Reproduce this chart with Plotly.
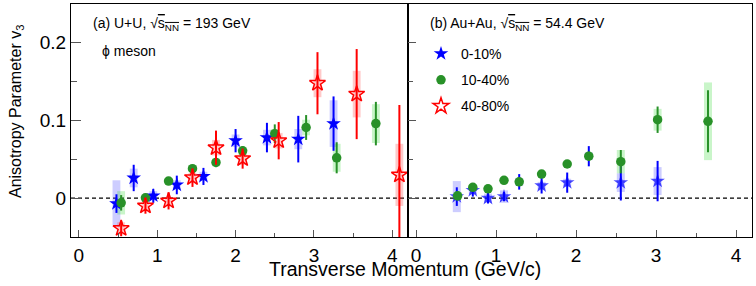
import plotly.graph_objects as go

# ---------------- data ----------------
# U+U 193 GeV
uu_x_010 = [0.48, 0.70, 0.95, 1.25, 1.59, 2.00, 2.40, 2.80, 3.25]
uu_v3_010 = [-0.007, 0.026, 0.003, 0.017, 0.028, 0.074, 0.078, 0.076, 0.096]
uu_stat_010 = [0.012, 0.017, 0.009, 0.012, 0.011, 0.015, 0.019, 0.030, 0.035]
uu_sys_010 = [0.030, 0.012, 0.006, 0.006, 0.006, 0.008, 0.010, 0.013, 0.030]

uu_x_1040 = [0.54, 0.85, 1.145, 1.45, 1.75, 2.09, 2.50, 2.90, 3.29, 3.79]
uu_v3_1040 = [-0.006, 0.0005, 0.022, 0.038, 0.046, 0.061, 0.083, 0.091, 0.052, 0.096]
uu_stat_1040 = [0.010, 0.004, 0.004, 0.005, 0.006, 0.006, 0.012, 0.016, 0.020, 0.028]
uu_sys_1040 = [0.015, 0.004, 0.004, 0.004, 0.005, 0.005, 0.006, 0.010, 0.018, 0.025]

uu_x_4080 = [0.54, 0.85, 1.145, 1.45, 1.75, 2.09, 2.55, 3.045, 3.545, 4.09]
uu_v3_4080 = [-0.039, -0.010, -0.0035, 0.0265, 0.065, 0.051, 0.074, 0.148, 0.134, 0.030]
uu_stat_4080 = [0.010, 0.010, 0.011, 0.012, 0.022, 0.013, 0.024, 0.040, 0.058, 0.090]
uu_sys_4080 = [0.008, 0.006, 0.005, 0.006, 0.010, 0.008, 0.010, 0.018, 0.030, 0.040]

# Au+Au 54.4 GeV
au_x_010 = [0.51, 0.71, 0.90, 1.10, 1.29, 1.57, 1.89, 2.16, 2.56, 3.02]
au_v3_010 = [0.002, 0.010, 0.000, 0.002, 0.021, 0.016, 0.020, 0.054, 0.020, 0.022]
au_stat_010 = [0.012, 0.008, 0.007, 0.006, 0.010, 0.010, 0.013, 0.013, 0.023, 0.026]
au_sys_010 = [0.020, 0.005, 0.006, 0.008, 0.005, 0.005, 0.005, 0.005, 0.012, 0.018]

au_x_1040 = [0.52, 0.71, 0.90, 1.10, 1.29, 1.57, 1.89, 2.16, 2.56, 3.02, 3.65]
au_v3_1040 = [0.003, 0.014, 0.012, 0.023, 0.021, 0.031, 0.044, 0.054, 0.047, 0.101, 0.099]
au_stat_1040 = [0.006, 0.004, 0.004, 0.004, 0.005, 0.004, 0.005, 0.006, 0.015, 0.017, 0.040]
au_sys_1040 = [0.005, 0.004, 0.004, 0.003, 0.004, 0.003, 0.004, 0.004, 0.015, 0.014, 0.050]

x_ticks = [0, 1, 2, 3, 4]
x_ticktext = ["0", "1", "2", "3", "4"]
y_ticks = [0, 0.1, 0.2]
y_ticktext = ["0", "0.1", "0.2"]

series_names = ["0-10%", "10-40%", "40-80%"]

# ---------------- styles ----------------
BLUE = "rgb(0,0,255)"
GREEN = "rgb(40,145,40)"
RED = "rgb(255,0,0)"
BLUE_BOX = "rgba(90,90,255,0.30)"
GREEN_BOX = "rgba(60,220,60,0.28)"
RED_BOX = "rgba(255,60,60,0.28)"
FONT = "Liberation Sans, Arial, sans-serif"
# blue markers fully hidden behind green circles in panel (b)
AU_BLUE_SIZES = [11, 11, 11, 11, 0, 11, 11, 0, 11, 11]

fig = go.Figure()


def add_boxes(x, v, s, color, xa, ya):
    fig.add_trace(go.Bar(
        x=x, y=[2 * e for e in s], base=[a - e for a, e in zip(v, s)],
        width=0.1, marker=dict(color=color, line=dict(width=0)),
        showlegend=False, hoverinfo="skip", xaxis=xa, yaxis=ya))


def add_points(x, v, e, color, symbol, size, name, xa, ya, show, lw=0):
    fig.add_trace(go.Scatter(
        x=x, y=v, mode="markers", name=name, legendgroup=name,
        showlegend=show,
        marker=dict(color=color, symbol=symbol, size=size,
                    line=dict(color=color, width=lw)),
        error_y=dict(type="data", array=e, color=color, thickness=2, width=0),
        xaxis=xa, yaxis=ya))


# systematic boxes
add_boxes(uu_x_010, uu_v3_010, uu_sys_010, BLUE_BOX, "x", "y")
add_boxes(uu_x_1040, uu_v3_1040, uu_sys_1040, GREEN_BOX, "x", "y")
add_boxes(uu_x_4080, uu_v3_4080, uu_sys_4080, RED_BOX, "x", "y")
add_boxes(au_x_010, au_v3_010, au_sys_010, BLUE_BOX, "x2", "y2")
add_boxes(au_x_1040, au_v3_1040, au_sys_1040, GREEN_BOX, "x2", "y2")

# points
add_points(uu_x_010, uu_v3_010, uu_stat_010, BLUE, "star", 11, series_names[0], "x", "y", True)
add_points(uu_x_1040, uu_v3_1040, uu_stat_1040, GREEN, "circle", 9.5, series_names[1], "x", "y", True)
add_points(uu_x_4080, uu_v3_4080, uu_stat_4080, RED, "star-open", 12, series_names[2], "x", "y", True, lw=1.5)
add_points(au_x_010, au_v3_010, au_stat_010, BLUE, "star", AU_BLUE_SIZES, series_names[0], "x2", "y2", False)
add_points(au_x_1040, au_v3_1040, au_stat_1040, GREEN, "circle", 9.5, series_names[1], "x2", "y2", False)

axis_common = dict(showline=True, linecolor="black", linewidth=1, mirror=True,
                   ticks="inside", showgrid=False, zeroline=False)

split = 337 / 681

xcommon = dict(range=[-0.1, 4.2], tickvals=x_ticks, ticktext=x_ticktext,
               ticklen=7, tickcolor="#555", tickfont=dict(size=19), ticklabelstandoff=1,
               minor=dict(dtick=0.5, tick0=0, ticklen=4, ticks="inside", tickcolor="#555"))

fig.update_layout(
    width=756, height=286,
    margin=dict(l=71, r=4, t=4, b=49),
    paper_bgcolor="white", plot_bgcolor="white",
    barmode="overlay",
    font=dict(family=FONT, color="black"),
    xaxis=dict(domain=[0, split], **xcommon, **axis_common),
    xaxis2=dict(domain=[split, 1], **xcommon, **axis_common),
    yaxis=dict(range=[-0.05, 0.25], tickvals=y_ticks, ticktext=y_ticktext,
               ticklen=10, tickcolor="#555", tickfont=dict(size=19),
               minor=dict(dtick=0.05, tick0=0, ticklen=6, ticks="inside", tickcolor="#555"),
               anchor="x", **axis_common),
    yaxis2=dict(range=[-0.05, 0.25], tickvals=y_ticks, showticklabels=False,
                ticklen=8, tickcolor="#555",
                minor=dict(dtick=0.05, tick0=0, ticklen=5, ticks="inside", tickcolor="#555"),
                anchor="x2", **axis_common),
    legend=dict(x=(421 - 71) / 681, y=1 - (38 - 4) / 233, xanchor="left", yanchor="top",
                bgcolor="rgba(0,0,0,0)", font=dict(size=14), tracegroupgap=5,
                traceorder="grouped"),
    shapes=[
        dict(type="line", xref="x domain", yref="y", x0=0, x1=1, y0=0, y1=0,
             line=dict(color="black", width=1.2, dash="4px,3px"), layer="below"),
        dict(type="line", xref="x2 domain", yref="y2", x0=0, x1=1, y0=0, y1=0,
             line=dict(color="black", width=1.2, dash="4px,3px"), layer="below"),
    ],
    annotations=[
        dict(text="(a) U+U, √<span style='text-decoration:overline'>s<sub>NN</sub></span> = 193 GeV",
             xref="paper", yref="paper", x=(91 - 71) / 681, y=1 - (24 - 4) / 233,
             xanchor="left", yanchor="middle", showarrow=False, font=dict(size=14)),
        dict(text="ϕ meson", xref="paper", yref="paper", x=(100 - 71) / 681, y=1 - (51 - 4) / 233,
             xanchor="left", yanchor="middle", showarrow=False, font=dict(size=14)),
        dict(text="(b) Au+Au, √<span style='text-decoration:overline'>s<sub>NN</sub></span> = 54.4 GeV",
             xref="paper", yref="paper", x=(428 - 71) / 681, y=1 - (24 - 4) / 233,
             xanchor="left", yanchor="middle", showarrow=False, font=dict(size=14)),
        dict(text="Anisotropy Parameter v<sub>3</sub>", xref="paper", yref="paper",
             x=(16 - 71) / 681, y=1 - (112 - 4) / 233, textangle=-90,
             xanchor="center", yanchor="middle", showarrow=False, font=dict(size=16)),
        dict(text="Transverse Momentum (GeV/c)", xref="paper", yref="paper",
             x=(405 - 71) / 681, y=1 - (269 - 4) / 233,
             xanchor="center", yanchor="middle", showarrow=False, font=dict(size=19.5)),
    ],
)

fig.write_html("out.html", config={"displayModeBar": False},
               post_script="document.body.style.margin='0';")
